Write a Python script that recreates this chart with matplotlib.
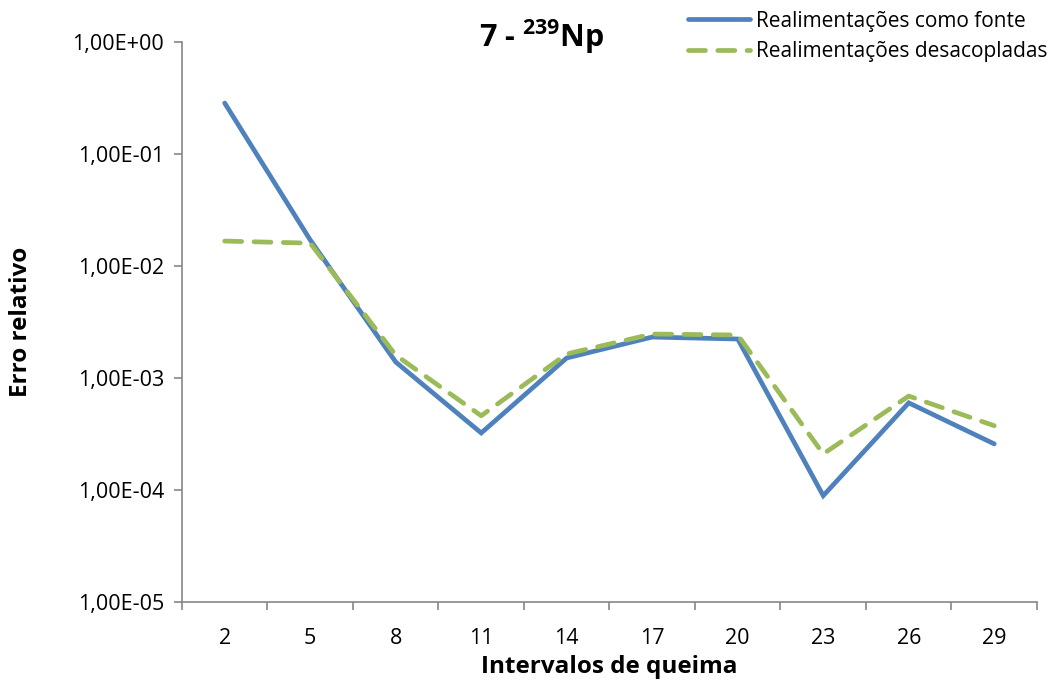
import matplotlib
matplotlib.use("Agg")
import matplotlib.pyplot as plt
from matplotlib.ticker import FixedLocator, FuncFormatter, NullLocator

# Dados
intervalos = ["2", "5", "8", "11", "14", "17", "20", "23", "26", "29"]
como_fonte = [0.285, 0.0171, 1.39e-3, 3.23e-4, 1.51e-3, 2.32e-3, 2.23e-3, 8.9e-5, 6.0e-4, 2.58e-4]
desacopladas = [0.0167, 0.0160, 1.60e-3, 4.6e-4, 1.64e-3, 2.47e-3, 2.42e-3, 2.1e-4, 6.9e-4, 3.75e-4]
y_ticks = [1e-5, 1e-4, 1e-3, 1e-2, 1e-1, 1e0]

plt.rcParams["font.family"] = ["Open Sans", "DejaVu Sans"]
plt.rcParams["mathtext.fontset"] = "custom"
plt.rcParams["mathtext.bf"] = "Open Sans:bold"
plt.rcParams["mathtext.rm"] = "Open Sans"

fig = plt.figure(figsize=(10.56, 6.82), dpi=100)
ax = fig.add_axes([0.1723, 0.1173, 0.982 - 0.1723, 0.9384 - 0.1173])

x = list(range(len(intervalos)))
ax.plot(x, como_fonte, color="#4F81BD", lw=3.4, solid_capstyle="round",
        solid_joinstyle="miter", label="Realimentações como fonte")
ax.plot(x, desacopladas, color="#9BBB59", lw=3.4, dashes=(3.6, 2.6),
        dash_capstyle="round", label="Realimentações desacopladas")

ax.set_yscale("log")
ax.set_ylim(1e-5, 1e0)
ax.set_xlim(-0.5, len(intervalos) - 0.5)
ax.yaxis.set_major_locator(FixedLocator(y_ticks))
ax.yaxis.set_minor_locator(NullLocator())
ax.yaxis.set_major_formatter(FuncFormatter(lambda v, p: ("%.2E" % v).replace(".", ",")))

# rótulos no centro, marcas nas divisões (estilo Excel)
ax.set_xticks(x)
ax.set_xticklabels(intervalos)
ax.set_xticks([i - 0.5 for i in range(len(intervalos) + 1)], minor=True)
ax.tick_params(axis="x", which="major", length=0, pad=19, labelsize=15.5)
ax.tick_params(axis="x", which="minor", length=6, color="#868686", width=1.2)
ax.tick_params(axis="y", which="major", length=6, color="#868686", width=1.2,
               labelsize=15.5, pad=7)

for lado in ["top", "right"]:
    ax.spines[lado].set_visible(False)
for lado in ["left", "bottom"]:
    ax.spines[lado].set_color("#868686")
    ax.spines[lado].set_linewidth(1.2)

ax.set_xlabel("Intervalos de queima", fontsize=17.5, fontweight="bold", labelpad=4)
ax.set_ylabel("Erro relativo", fontsize=17.5, fontweight="bold", labelpad=28)

fig.text(0.513, 0.946, r"7 - $^{\mathbf{239}}$Np", fontsize=22, fontweight="bold",
         ha="center", va="center")

fig.legend(loc="upper right", bbox_to_anchor=(1.01, 1.012), frameon=False,
           fontsize=15, handlelength=3.0, handletextpad=0.3, labelspacing=0.45)

fig.savefig("out.png", dpi=100)
